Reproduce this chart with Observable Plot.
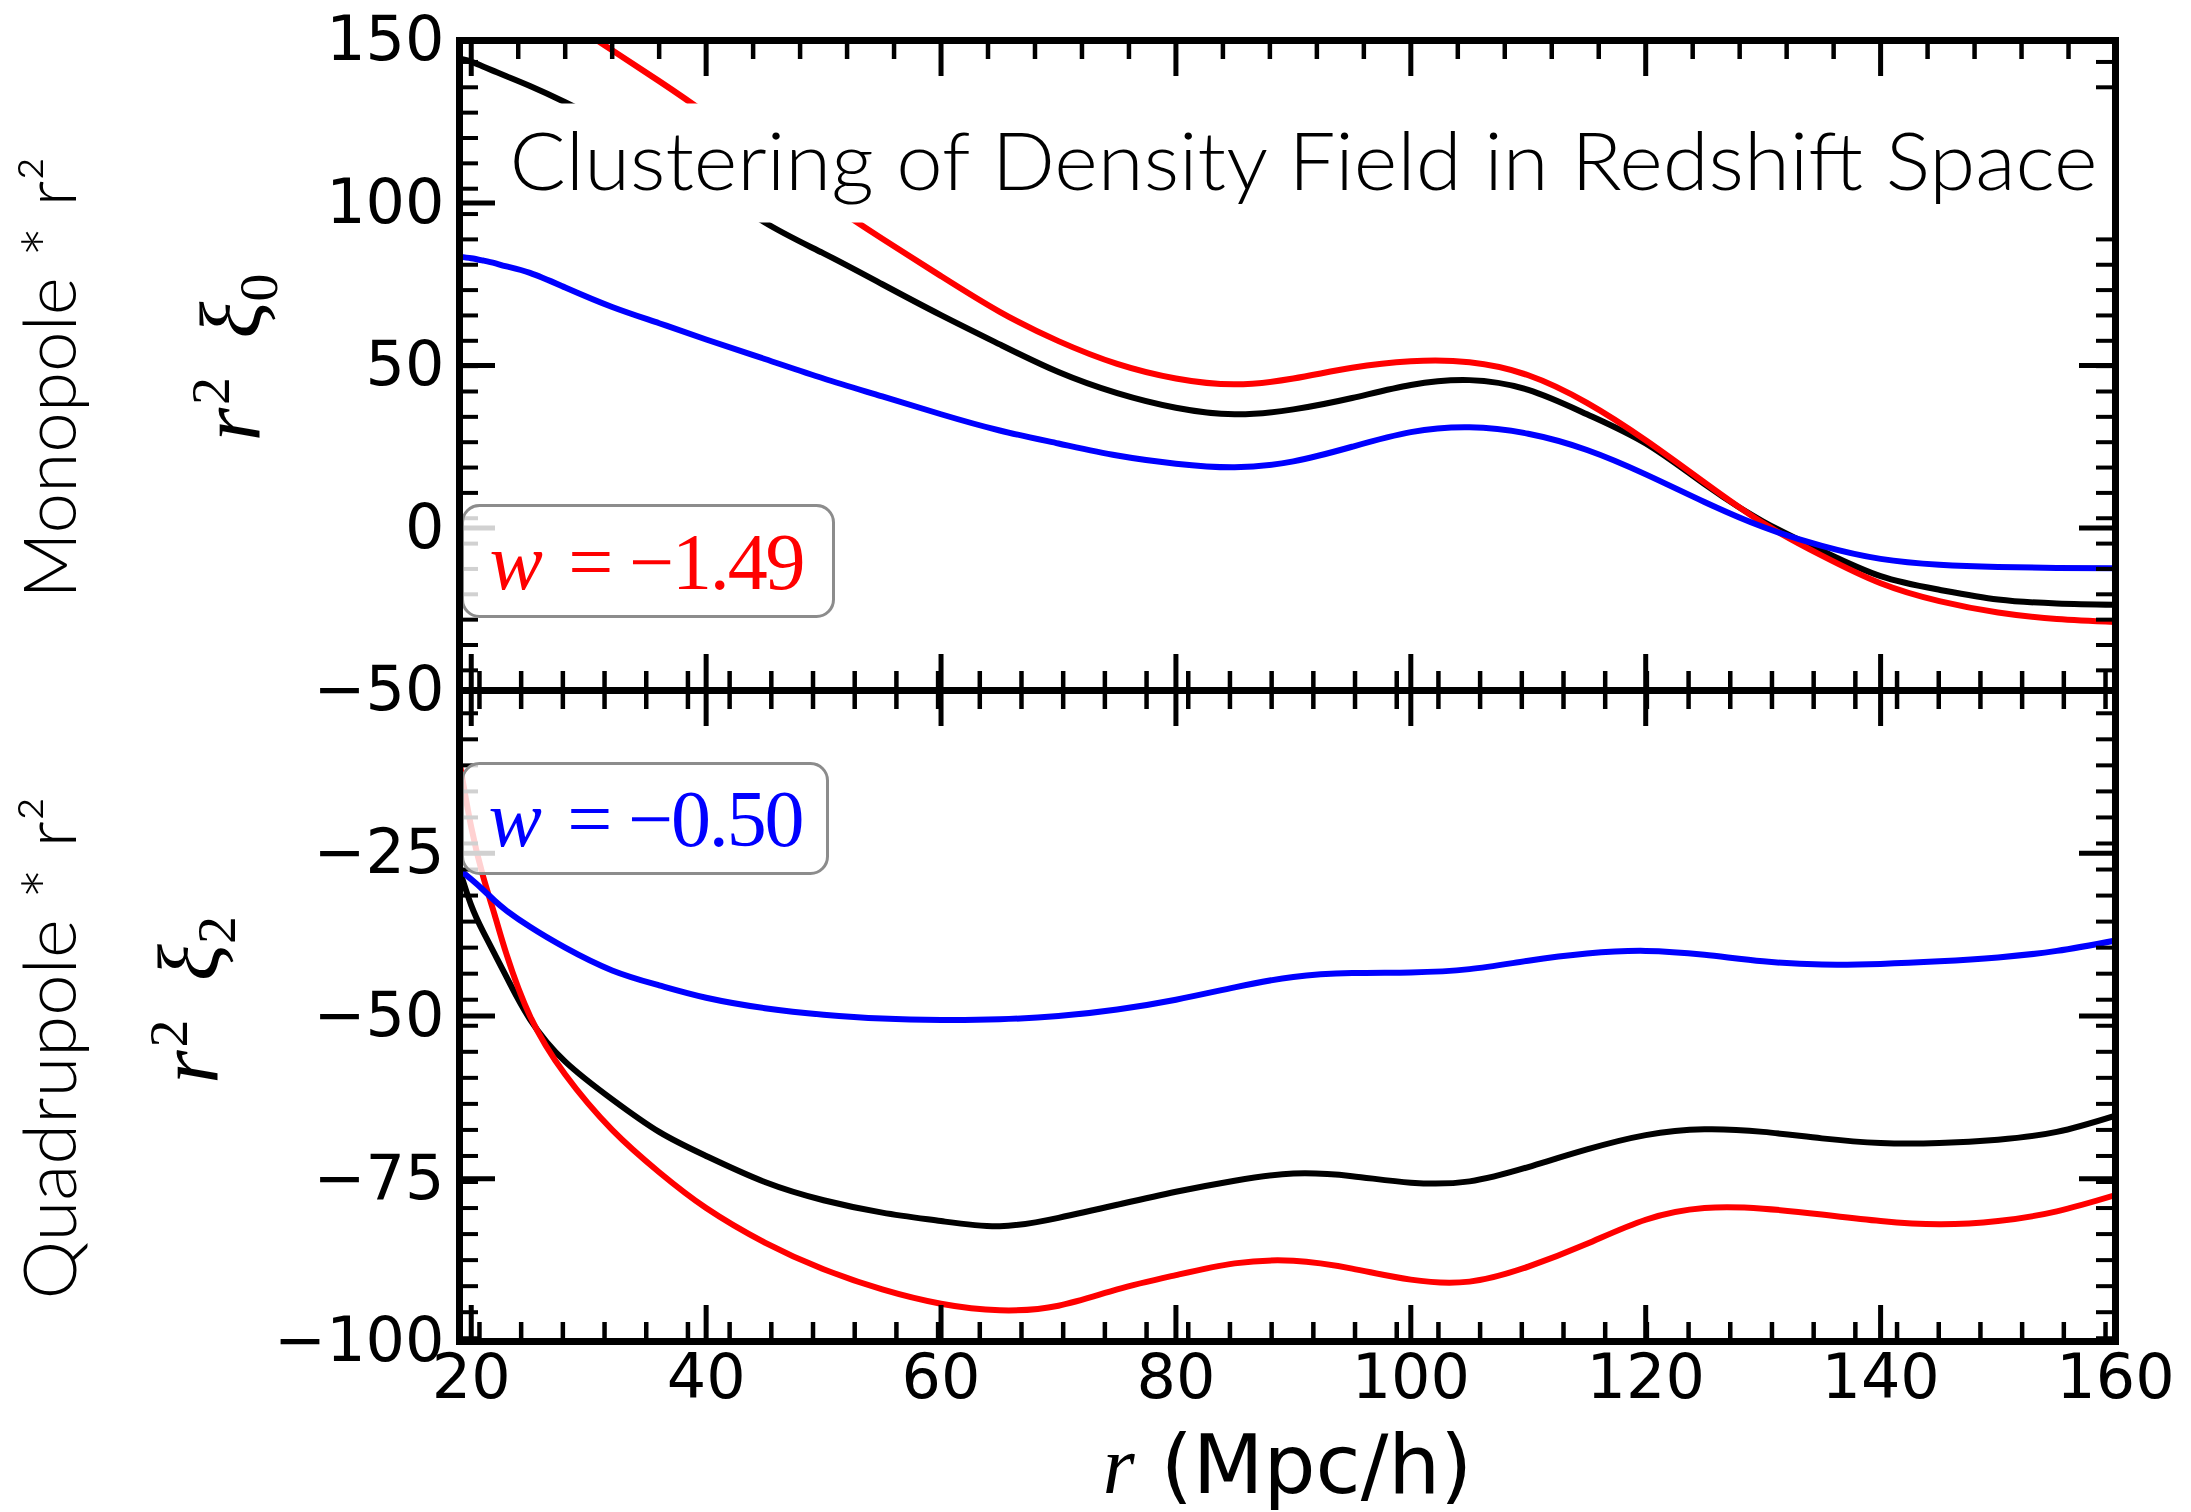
<!DOCTYPE html>
<html><head><meta charset="utf-8">
<script src="https://cdn.jsdelivr.net/npm/d3@7"></script>
<script src="https://cdn.jsdelivr.net/npm/@observablehq/plot@0.6"></script>
<style>
html,body{margin:0;padding:0;background:#fff;}
#chart{position:relative;width:2191px;height:1512px;overflow:hidden;background:#fff;}
#chart svg{position:absolute;left:0;top:0;}
</style></head><body><div id="chart"></div>
<script>
// ---- data ----
const r = [19,20,21,22,23,25,28,32,36,40,45,50,55,60,65,70,75,80,85,90,95,100,105,110,115,120,125,130,135,140,145,150,155,160];
const monoBlack = [144.5,143.5,142,140.5,139,136,131,123.5,115,106,94,84.5,75,65.5,56.5,48,41.5,37,35,36.5,40,44,45.5,42.5,35,26,13.5,2,-7,-14.8,-19,-22,-23.2,-23.6];
const monoRed   = [181,178,175,172,169.5,164,156.5,147,137.5,127.5,114,101,89,77.5,66.5,57.5,50.5,46,44.2,46,49.3,51.3,51,47,38.5,27,14,1.5,-8.5,-17,-22.5,-26,-28,-28.9];
const monoBlue  = [83.5,83,82.3,81.5,80.5,78.5,74,68,63,58,52,46,40.5,35,30,26,22.3,19.8,18.7,20.5,25,29.5,31,29,24,16.5,8,0.3,-5.5,-9.5,-11.3,-12,-12.3,-12.4];
const quadBlack = [-27.5,-33,-37,-40.5,-44,-50.5,-57,-62.8,-67.8,-71.5,-75.5,-78.3,-80.2,-81.5,-82.3,-81,-79,-77,-75.3,-74.2,-74.6,-75.6,-75.4,-73.2,-70.5,-68.3,-67.4,-67.8,-68.8,-69.5,-69.5,-69,-67.8,-65.3];
const quadRed   = [-11,-21,-28.5,-34.5,-40.5,-50,-59,-67.5,-74,-79.5,-84.8,-88.9,-92,-94.2,-95.2,-94.5,-92,-89.8,-88,-87.6,-88.8,-90.5,-90.8,-88.5,-85,-81.3,-79.5,-79.6,-80.5,-81.5,-82,-81.5,-80,-77.5];
const quadBlue  = [-27.5,-29,-30.6,-32.3,-33.8,-36.3,-39.5,-43,-45.3,-47.2,-48.8,-49.8,-50.4,-50.6,-50.5,-50,-49,-47.5,-45.6,-44,-43.4,-43.3,-42.8,-41.5,-40.4,-40,-40.6,-41.6,-42.1,-42,-41.6,-41,-40,-38.4];
const seriesNames = ["black","red","blue"];
const seriesColors = ["#000000","#ff0000","#0000ff"];
const xTicks = [20,40,60,80,100,120,140,160];
const xMinorTop = [24,28,32,36,44,48,52,56,64,68,72,76,84,88,92,96,104,108,112,116,124,128,132,136,144,148,152,156];
const xMinor = [20.7,24.25,27.8,31.35,34.9,38.45,42,45.55,49.1,52.65,56.2,59.75,63.3,66.85,70.4,73.95,77.5,81.05,84.6,88.15,91.7,95.25,98.8,102.35,105.9,109.45,113,116.55,120.1,123.65,127.2,130.75,134.3,137.85,141.4,144.95,148.5,152.05,155.6,159.15];
const monoTicks = [-50,0,50,100,150];
const monoMinor = [-43.8,-36,-28.2,-20.4,-12.6,-4.8,3,10.8,18.6,26.4,34.2,42,49.8,57.6,65.4,73.2,81,88.8,96.6,104.4,112.2,120,127.8,135.6,143.4];
const quadTicks = [-100,-75,-50,-25];
const quadMinor = [-99.5,-95.5,-91.5,-87.5,-83.5,-79.5,-75.5,-71.5,-67.5,-63.5,-59.5,-55.5,-51.5,-47.5,-43.5,-39.5,-35.5,-31.5,-27.5,-23.5,-19.5,-15.5,-11.5,-7.5,-3.5];
const titleText = "Clustering of Density Field in Redshift Space";
const legendTop = "w = −1.49";
const legendBottom = "w = −0.50";
const yLabelTop = "Monopole * r²";
const yLabelBottom = "Quadrupole * r²";
const mathTop = "r² ξ₀";
const mathBottom = "r² ξ₂";
const xLabel = "r (Mpc/h)";

function tidy(arrs){
  const out=[];
  arrs.forEach((a,k)=>a.forEach((v,i)=>out.push({r:r[i], v, s:seriesNames[k]})));
  return out;
}
const monoData = tidy([monoBlack, monoRed, monoBlue]);
const quadData = tidy([quadBlack, quadRed, quadBlue]);

const W=2191, H=1512, mL=459, mR=76, FW=W-mL-mR;
const fmt = d => d < 0 ? "\u2212" + (-d) : String(d);
const MAJ=36, MIN=19;

function ticksX(major, minor, FH, edge){
  const key = edge === "bottom" ? "insetTop" : "insetBottom";
  return [
    Plot.tickX(minor, {x:d=>d, [key]:FH-MIN, stroke:"#000", strokeWidth:4.5}),
    Plot.tickX(major, {x:d=>d, [key]:FH-MAJ, stroke:"#000", strokeWidth:5})
  ];
}
function ticksY(major, minor){
  const out=[];
  for (const key of ["insetRight","insetLeft"]) {
    out.push(Plot.tickY(minor, {y:d=>d, [key]:FW-MIN, stroke:"#000", strokeWidth:4}));
    out.push(Plot.tickY(major, {y:d=>d, [key]:FW-MAJ, stroke:"#000", strokeWidth:5}));
  }
  return out;
}
const lineMarks = data => seriesNames.map(s =>
  Plot.line(data.filter(d=>d.s===s), {x:"r", y:"v", stroke:"s", strokeWidth:6, curve:"natural", clip:true}));

const baseStyle = {background:"transparent", fontFamily:"'DejaVu Sans', sans-serif", fontSize:"62px", overflow:"visible"};
const colorScale = {domain:seriesNames, range:seriesColors};

// ---- top panel (monopole) ----
const topMT=40, topMB=H-690, topFH=H-topMT-topMB;
const topPlot = Plot.plot({
  width:W, height:H, marginLeft:mL, marginRight:mR, marginTop:topMT, marginBottom:topMB,
  style:baseStyle, color:colorScale,
  x:{domain:[19,160], axis:null},
  y:{domain:[-50,150]},
  marks:[
    ...lineMarks(monoData),
    ...ticksX(xTicks, xMinorTop, topFH, "top"),
    ...ticksX(xTicks, xMinor, topFH, "bottom"),
    ...ticksY(monoTicks, monoMinor),
    Plot.frame({fill:"white", insetLeft:41, insetRight:0, insetTop:63, insetBottom:468}),
    Plot.frame({fill:"white", fillOpacity:0.82, stroke:"#8c8c8c", strokeWidth:3, rx:17, insetLeft:3, insetRight:1282, insetTop:465, insetBottom:74}),
    Plot.frame({stroke:"#000", strokeWidth:7}),
    Plot.axisY({ticks:monoTicks, tickFormat:fmt, tickSize:0, tickPadding:15, label:null, fontSize:62}),
    Plot.text([titleText], {text:d=>d, frameAnchor:"top-left", dx:50, dy:124, textAnchor:"start", lineAnchor:"middle", fontSize:80, fontWeight:300, fontFamily:"Lato, Roboto, sans-serif", fill:"#000"}),
    Plot.text([legendTop], {text:d=>d, frameAnchor:"top-left", dx:30, dy:548, textAnchor:"start", lineAnchor:"bottom", fontSize:80, fontFamily:"'Liberation Serif', serif", fill:"#ff0000"}),
    Plot.text([yLabelTop], {text:d=>d, frameAnchor:"left", dx:-407, dy:12, rotate:-90, textAnchor:"middle", lineAnchor:"middle", fontSize:72, fontWeight:300, fontFamily:"Lato, Roboto, sans-serif", fill:"#000"}),
    Plot.text([mathTop], {text:d=>d, frameAnchor:"left", dx:-227, dy:-8, rotate:-90, textAnchor:"middle", lineAnchor:"middle", fontSize:86, fontFamily:"'Liberation Serif', serif", fill:"#000"})
  ]
});

// ---- bottom panel (quadrupole) ----
const botMT=690, botMB=H-1341, botFH=H-botMT-botMB;
const bottomPlot = Plot.plot({
  width:W, height:H, marginLeft:mL, marginRight:mR, marginTop:botMT, marginBottom:botMB,
  style:baseStyle, color:colorScale,
  x:{domain:[19,160]},
  y:{domain:[-100,0]},
  marks:[
    ...lineMarks(quadData),
    ...ticksX(xTicks, xMinor, botFH, "top"),
    ...ticksX(xTicks, xMinor, botFH, "bottom"),
    ...ticksY([-100,-75,-50,-25,0], quadMinor),
    Plot.frame({fill:"white", fillOpacity:0.82, stroke:"#8c8c8c", strokeWidth:3, rx:17, insetLeft:3, insetRight:1288, insetTop:73, insetBottom:468}),
    Plot.frame({stroke:"#000", strokeWidth:7}),
    Plot.axisY({ticks:quadTicks, tickFormat:fmt, tickSize:0, tickPadding:15, label:null, fontSize:62}),
    Plot.axisX({ticks:xTicks, tickFormat:fmt, tickSize:0, tickPadding:12, label:null, fontSize:62}),
    Plot.text([legendBottom], {text:d=>d, frameAnchor:"top-left", dx:29, dy:155, textAnchor:"start", lineAnchor:"bottom", fontSize:80, fontFamily:"'Liberation Serif', serif", fill:"#0000ff"}),
    Plot.text([yLabelBottom], {text:d=>d, frameAnchor:"left", dx:-407, dy:32, rotate:-90, textAnchor:"middle", lineAnchor:"middle", fontSize:72, fontWeight:300, fontFamily:"Lato, Roboto, sans-serif", fill:"#000"}),
    Plot.text([mathBottom], {text:d=>d, frameAnchor:"left", dx:-269, dy:-16, rotate:-90, textAnchor:"middle", lineAnchor:"middle", fontSize:86, fontFamily:"'Liberation Serif', serif", fill:"#000"}),
    Plot.text([xLabel], {text:d=>d, frameAnchor:"bottom", dx:0, dy:151, textAnchor:"middle", lineAnchor:"bottom", fontSize:82, fontFamily:"'DejaVu Sans', sans-serif", fill:"#000"})
  ]
});

// ---- text refinements (italic math parts, widths) ----
function restyle(svg){
  d3.select(svg).selectAll("text").each(function(){
    const t = this.textContent, el = d3.select(this);
    if (t === titleText) {
      el.attr("textLength",1588).attr("lengthAdjust","spacingAndGlyphs");
    } else if (t === yLabelTop) {
      el.attr("textLength",442).attr("lengthAdjust","spacingAndGlyphs");
    } else if (t === yLabelBottom) {
      el.attr("textLength",503).attr("lengthAdjust","spacingAndGlyphs");
    } else if (t === legendTop || t === legendBottom) {
      const rest = t.slice(4);
      el.text(null);
      el.append("tspan").attr("font-style","italic").text("w");
      el.append("tspan").attr("dx","0.12em").text(" = ");
      el.append("tspan").text(rest);
      el.attr("textLength",316).attr("lengthAdjust","spacing");
    } else if (t === mathTop || t === mathBottom) {
      const sub = t === mathTop ? "0" : "2";
      el.text(null);
      el.append("tspan").attr("font-style","italic").text("r");
      el.append("tspan").attr("font-size","65%").attr("dy","-0.55em").attr("dx","0.05em").text("2");
      el.append("tspan").attr("font-style","italic").attr("dy","0.36em").attr("dx","0.45em").text("ξ");
      el.append("tspan").attr("font-size","65%").attr("dy","0.3em").text(sub);
    } else if (t === xLabel) {
      el.text(null);
      el.append("tspan").attr("font-style","italic").attr("font-family","'Liberation Serif', serif").text("r");
      el.append("tspan").text(" (Mpc/h)");
    }
  });
}
restyle(topPlot); restyle(bottomPlot);
const chart = document.getElementById("chart");
chart.appendChild(topPlot);
chart.appendChild(bottomPlot);
</script>
</body></html>
